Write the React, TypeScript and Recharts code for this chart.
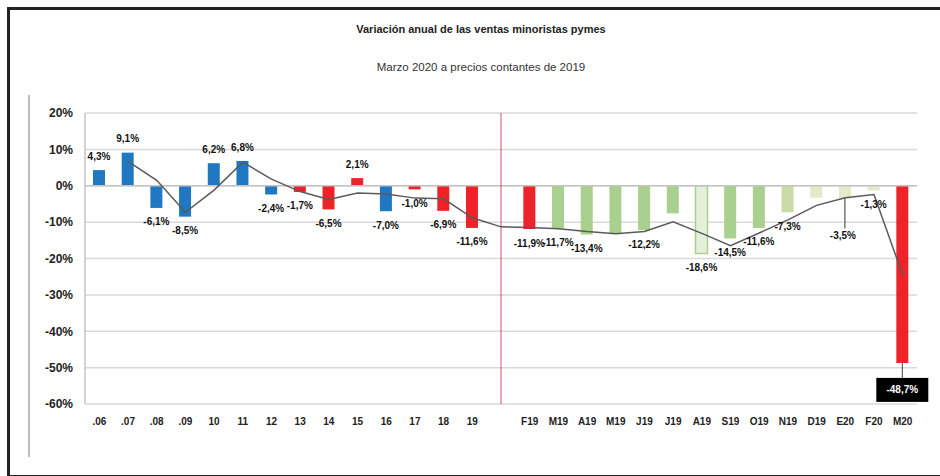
import { Bar, CartesianGrid, Cell, ComposedChart, LabelList, Line, ReferenceLine, XAxis, YAxis } from "recharts"

// Meses / años (el hueco separa la serie anual de la mensual)
const meses = [
  ".06", ".07", ".08", ".09", "10", "11", "12", "13", "14", "15", "16", "17", "18", "19",
  "",
  "F19", "M19", "A19", "M19", "J19", "J19", "A19", "S19", "O19", "N19", "D19", "E20", "F20", "M20",
]

// Variación anual (%)
const variacion = [
  4.3, 9.1, -6.1, -8.5, 6.2, 6.8, -2.4, -1.7, -6.5, 2.1, -7.0, -1.0, -6.9, -11.6,
  null,
  -11.9, -11.7, -13.4, -13.0, -12.2, -7.6, -18.6, -14.5, -11.6, -7.3, -3.3, -3.5, -1.3, -48.7,
]

// Media móvil (línea gris)
const media = [
  null, 6.7, 1.5, -7.3, -1.2, 6.5, 1.8, -1.6, -3.8, -2.0, -2.3, -3.4, -3.6, -8.8,
  -11.3,
  -11.5, -11.8, -12.6, -13.2, -12.6, -9.9, -13.1, -16.5, -13.0, -9.4, -5.4, -3.3, -2.4, -24.5,
]

// Etiquetas visibles
const etiquetas = [
  "4,3%", "9,1%", "-6,1%", "-8,5%", "6,2%", "6,8%", "-2,4%", "-1,7%", "-6,5%", "2,1%", "-7,0%", "-1,0%", "-6,9%", "-11,6%",
  null,
  "-11,9%", "-11,7%", "-13,4%", null, "-12,2%", null, "-18,6%", "-14,5%", "-11,6%", "-7,3%", null, "-3,5%", "-1,3%", "-48,7%",
]

const yTicks = [20, 10, 0, -10, -20, -30, -40, -50, -60]

const AZUL = "#1f78c1"
const ROJO = "#ee2229"
const VERDE = "#a9d08e"
const VERDE2 = "#c9dca8"
const VERDE3 = "#e2ebc8"
const PALIDO = "#e4f0dc"

const colores = [
  AZUL, AZUL, AZUL, AZUL, AZUL, AZUL, AZUL, ROJO, ROJO, ROJO, AZUL, ROJO, ROJO, ROJO,
  AZUL,
  ROJO, VERDE, VERDE, VERDE, VERDE, VERDE, PALIDO, VERDE, VERDE, VERDE2, VERDE3, VERDE3, VERDE3, ROJO,
]

const data = meses.map((mes, i) => ({
  id: `k${i}`,
  mes,
  variacion: variacion[i],
  media: media[i],
  etiqueta: etiquetas[i],
}))

const FONT = "'Liberation Sans', Arial, sans-serif"

const EtiquetaBarra = (props: any) => {
  const { x, y, width, height, value } = props
  if (!value) return null
  const texto = String(value)
  const top = Math.min(y, y + height)
  const bottom = Math.max(y, y + height)
  const cx = x + width / 2
  const negativo = texto.startsWith("-")

  if (texto === "-48,7%") {
    return (
      <g>
        <line x1={cx} y1={bottom} x2={cx} y2={bottom + 15} stroke="#444" strokeWidth={1} />
        <rect x={cx - 26} y={bottom + 15} width={52} height={24} fill="#000" />
        <text x={cx} y={bottom + 27} textAnchor="middle" dominantBaseline="central" fill="#fff" fontSize={10} fontWeight="bold" fontFamily={FONT}>
          {texto}
        </text>
      </g>
    )
  }
  if (texto === "-3,5%") {
    return (
      <g>
        <line x1={cx} y1={bottom} x2={cx} y2={bottom + 30} stroke="#333" strokeWidth={1} />
        <text x={cx - 2} y={bottom + 37} textAnchor="middle" dominantBaseline="central" fill="#111" fontSize={10} fontWeight="bold" fontFamily={FONT}>
          {texto}
        </text>
      </g>
    )
  }
  const ty = negativo ? bottom + 14 : top - 14
  return (
    <text x={cx} y={ty} textAnchor="middle" dominantBaseline="central" fill="#111" fontSize={10} fontWeight="bold" fontFamily={FONT}>
      {texto}
    </text>
  )
}

export default function App() {
  return (
    <div style={{ position: "absolute", left: 0, top: 0, width: 940, height: 476, background: "#fff", overflow: "hidden", fontFamily: FONT }}>
      {/* marco */}
      <div style={{ position: "absolute", left: 7, top: 7, width: 960, height: 465, borderLeft: "3px solid #222", borderTop: "3px solid #222", borderBottom: "3px solid #222" }} />
      <div style={{ position: "absolute", left: 28, top: 95, width: 2, height: 362, background: "#bdbdbd" }} />
      <div style={{ position: "absolute", left: 0, width: 962, top: 23, textAlign: "center", fontSize: 11, fontWeight: "bold", color: "#222" }}>
        Variación anual de las ventas minoristas pymes
      </div>
      <div style={{ position: "absolute", left: 0, width: 962, top: 61, textAlign: "center", fontSize: 11.5, color: "#333" }}>
        Marzo 2020 a precios contantes de 2019
      </div>
      <div style={{ position: "absolute", left: 0, top: 0 }}>
        <ComposedChart width={940} height={476} data={data} margin={{ top: 113, right: 23, bottom: 0, left: 0 }}>
          <CartesianGrid vertical={false} stroke="#d9d9d9" strokeWidth={1.5} />
          <XAxis
            dataKey="id"
            interval={0}
            height={72}
            tickLine={false}
            axisLine={false}
            tickMargin={8}
            tickFormatter={(_v, i) => meses[i]}
            tick={{ fontSize: 10, fontWeight: "bold", fill: "#222", fontFamily: FONT }}
          />
          <YAxis
            width={85}
            domain={[-60, 20]}
            ticks={yTicks}
            interval={0}
            tickLine={false}
            axisLine={{ stroke: "#c4c4c4", strokeWidth: 1.5 }}
            tickMargin={6}
            tickFormatter={(v) => `${v}%`}
            tick={{ fontSize: 12, fontWeight: "bold", fill: "#222", fontFamily: FONT }}
          />
          <ReferenceLine y={0} stroke="#c4c4c4" strokeWidth={1.5} />
          <ReferenceLine x="k14" stroke="#d24c6a" strokeWidth={1} />
          <Line
            type="linear"
            dataKey="media"
            stroke="#5a5a5a"
            strokeWidth={1.5}
            dot={false}
            activeDot={false}
            connectNulls
            isAnimationActive={false}
          />
          <Bar dataKey="variacion" barSize={12} isAnimationActive={false}>
            {data.map((d, i) => (
              <Cell
                key={d.id}
                fill={colores[i]}
                stroke={colores[i] === PALIDO ? VERDE : "none"}
                strokeWidth={colores[i] === PALIDO ? 1.5 : 0}
              />
            ))}
            <LabelList dataKey="etiqueta" content={EtiquetaBarra} />
          </Bar>
        </ComposedChart>
      </div>
    </div>
  )
}
